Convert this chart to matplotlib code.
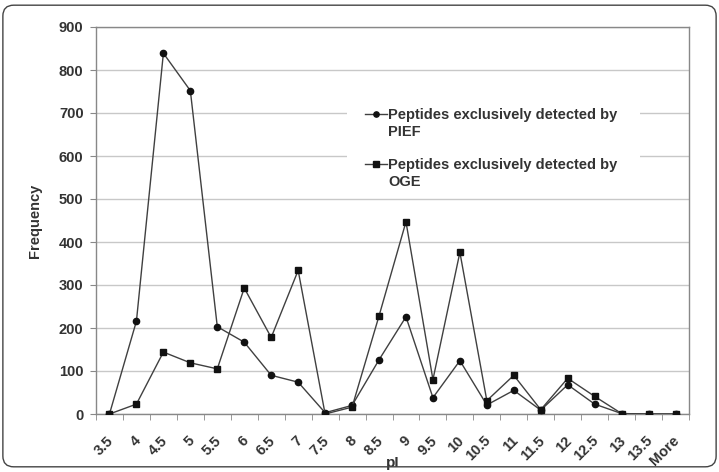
import matplotlib
matplotlib.use("Agg")
import matplotlib.pyplot as plt
from matplotlib.patches import FancyBboxPatch, Rectangle
from matplotlib.lines import Line2D
from matplotlib.transforms import ScaledTranslation

categories = ["3.5", "4", "4.5", "5", "5.5", "6", "6.5", "7", "7.5", "8", "8.5",
              "9", "9.5", "10", "10.5", "11", "11.5", "12", "12.5", "13", "13.5", "More"]
pief = [0, 216, 839, 752, 203, 167, 90, 74, 3, 20, 126,
        226, 38, 124, 21, 55, 9, 68, 23, 1, 0, 0]
oge = [0, 23, 144, 119, 105, 293, 178, 334, 0, 16, 228,
       447, 80, 376, 31, 90, 10, 83, 41, 1, 0, 0]
yticks = [0, 100, 200, 300, 400, 500, 600, 700, 800, 900]
legend_lines = [["Peptides exclusively detected by", "PIEF"],
                ["Peptides exclusively detected by", "OGE"]]

plt.rcParams['font.family'] = ['Liberation Sans', 'DejaVu Sans']
txt = '#333333'

W, H = 719, 472
fig = plt.figure(figsize=(W / 100, H / 100), dpi=100)
L, R, T, B = 96, 689, 27, 414
ax = fig.add_axes([L / W, 1 - B / H, (R - L) / W, (B - T) / H])

# outer rounded frame
frame = FancyBboxPatch((0.004, 0.011), 0.992, 0.978,
                       boxstyle="round,pad=0,rounding_size=0.015",
                       transform=fig.transFigure, fill=False,
                       edgecolor='#444444', linewidth=1.0, mutation_aspect=W / H)
fig.patches.append(frame)

x = list(range(len(categories)))
ax.plot(x, pief, color='#404040', lw=1.0, marker='o', ms=4.5, mfc='#111111',
        mec='#111111', zorder=3)
ax.plot(x, oge, color='#404040', lw=1.0, marker='s', ms=4.2, mfc='#111111',
        mec='#111111', zorder=3)

ax.set_xlim(-0.5, len(categories) - 0.5)
ax.set_ylim(0, 900)
ax.set_yticks(yticks)
ax.set_yticklabels([str(v) for v in yticks], fontsize=10.5, fontweight='bold', color=txt)
ax.set_xticks(x)
ax.set_xticklabels(categories, rotation=45, ha='right', rotation_mode='anchor',
                   fontsize=10.5, fontweight='bold', color=txt)
ax.tick_params(axis='x', length=0, pad=14)
shift = ScaledTranslation(-3 / 100, 0, fig.dpi_scale_trans)
for lab in ax.get_xticklabels():
    lab.set_transform(lab.get_transform() + shift)
ax.set_xticks([i - 0.5 for i in range(len(categories) + 1)], minor=True)
ax.tick_params(axis='x', which='minor', length=4, color='#888888', direction='out')
ax.tick_params(axis='y', length=4, color='#888888', direction='out', pad=5)

ax.grid(axis='y', color='#c8c8c8', lw=1.0, zorder=0)
ax.set_axisbelow(True)
for s in ax.spines.values():
    s.set_color('#888888')
    s.set_linewidth(1.0)

ax.set_xlabel('pI', fontsize=11, fontweight='bold', color=txt, va='center')
ax.xaxis.set_label_coords(0.5, -0.127)
ax.set_ylabel('Frequency', fontsize=10.5, fontweight='bold', color=txt, va='center')
ax.yaxis.set_label_coords(-0.103, 0.5)

# manual legend (pixel layout converted to axes fraction)
def fx(px):
    return (px - L) / (R - L)

def fy(py):
    return (B - py) / (B - T)

ax.add_patch(Rectangle((fx(347), fy(194)), fx(640) - fx(347), fy(92) - fy(194),
                       transform=ax.transAxes, facecolor='white', edgecolor='none',
                       zorder=2))
markers = ['o', 's']
base = [119, 169]
for i, lines in enumerate(legend_lines):
    yb = base[i]
    ax.add_line(Line2D([fx(365), fx(387)], [fy(yb - 5), fy(yb - 5)],
                       transform=ax.transAxes, color='#404040', lw=1.0, zorder=4))
    ax.add_line(Line2D([fx(376)], [fy(yb - 5)], transform=ax.transAxes,
                       linestyle='none', marker=markers[i], ms=3.8,
                       mfc='#111111', mec='#111111', zorder=5))
    for j, s in enumerate(lines):
        ax.text(fx(388), fy(yb + 17 * j), s, transform=ax.transAxes,
                fontsize=10.5, fontweight='bold', color=txt, ha='left',
                va='baseline', zorder=5)

fig.savefig('out.png', dpi=100)
